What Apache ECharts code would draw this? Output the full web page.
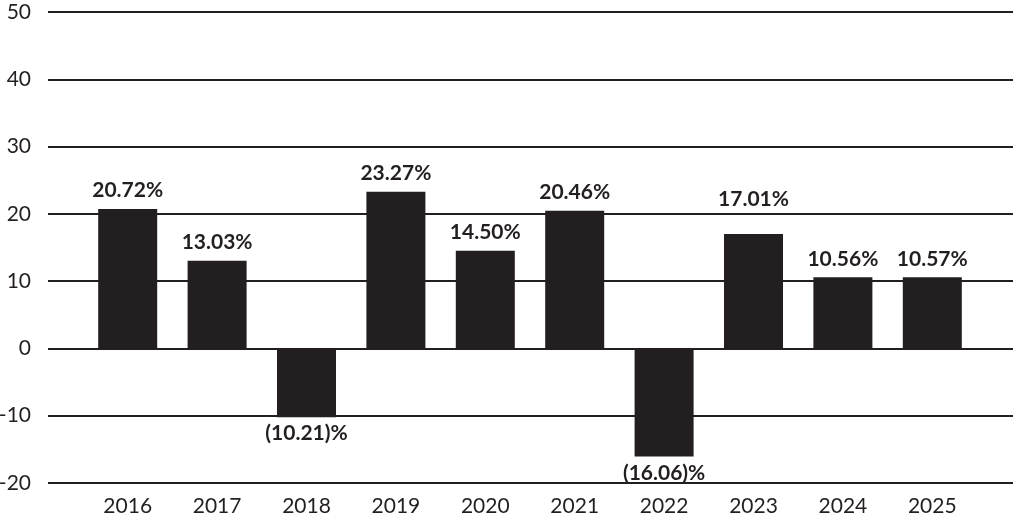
<!DOCTYPE html>
<html>
<head>
<meta charset="utf-8">
<script src="https://cdn.jsdelivr.net/npm/echarts@6/dist/echarts.min.js"></script>
<style>
  html, body { margin: 0; padding: 0; background: #fff; }
  #chart { width: 1013px; height: 522px; }
</style>
</head>
<body>
<div id="chart"></div>
<script>
var years = ['2016', '2017', '2018', '2019', '2020', '2021', '2022', '2023', '2024', '2025'];
var returns = [20.72, 13.03, -10.21, 23.27, 14.50, 20.46, -16.06, 17.01, 10.56, 10.57];

var chartDom = document.getElementById('chart');
var myChart = echarts.init(chartDom);

var ink = '#231f20';
var font = 'Lato';

var barData = returns.map(function (v, i) {
  var item = { value: v };
  if (v < 0) {
    item.label = { position: 'bottom', distance: 6 };
  } else if (years[i] === '2023') {
    item.label = { distance: 24 };
  }
  return item;
});

const option = {
  animation: false,
  grid: [
    { left: 48, right: 0, top: 12, bottom: 39, outerBoundsMode: 'none' },
    { left: 83, right: 36, top: 12, bottom: 39, outerBoundsMode: 'none' }
  ],
  xAxis: [
    { type: 'category', gridIndex: 0, data: years, show: false },
    {
      type: 'category',
      gridIndex: 1,
      data: years,
      axisLine: { show: false },
      axisTick: { show: false },
      axisLabel: { color: ink, fontFamily: font, fontSize: 21, margin: 13 }
    }
  ],
  yAxis: [
    {
      type: 'value',
      gridIndex: 0,
      min: -20,
      max: 50,
      interval: 10,
      axisLine: { show: false },
      axisTick: { show: false },
      axisLabel: { color: ink, fontFamily: font, fontSize: 21, margin: 17 },
      splitLine: { lineStyle: { color: ink, width: 2 } }
    },
    {
      type: 'value',
      gridIndex: 1,
      min: -20,
      max: 50,
      interval: 10,
      show: false,
      splitLine: { show: false }
    }
  ],
  series: [
    {
      type: 'bar',
      xAxisIndex: 1,
      yAxisIndex: 1,
      barWidth: '66%',
      data: barData,
      itemStyle: { color: ink },
      label: {
        show: true,
        position: 'top',
        distance: 8,
        color: ink,
        fontFamily: font,
        fontWeight: 'bold',
        fontSize: 21,
        formatter: function (p) {
          var v = p.value;
          return v < 0 ? '(' + Math.abs(v).toFixed(2) + ')%' : v.toFixed(2) + '%';
        }
      }
    }
  ]
};
myChart.setOption(option);
</script>
</body>
</html>
